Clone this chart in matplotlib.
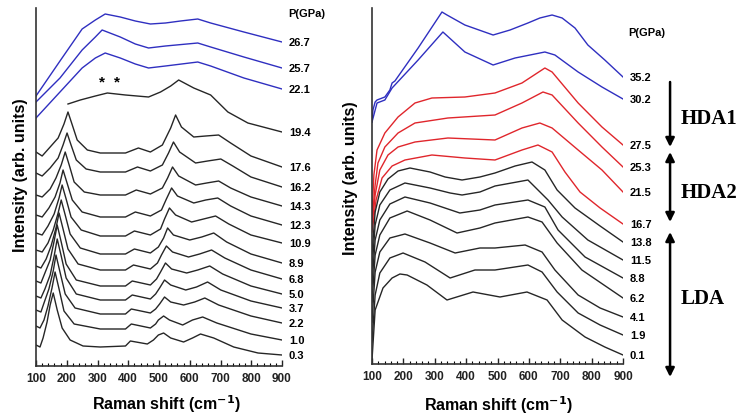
import matplotlib
matplotlib.use('Agg')
import matplotlib.pyplot as plt
from matplotlib.ticker import MultipleLocator

plt.rcParams['font.family'] = ['Liberation Sans', 'DejaVu Sans']
plt.rcParams['font.weight'] = 'bold'

# ---------- left panel: Raman shift (cm-1) / stacked intensity (arb.) ----------
l267_x = [100, 178, 250, 293, 325, 374, 423, 472, 521, 570, 626, 668, 776, 900]
l267_y = [270, 305, 337, 346, 352, 349, 345, 342, 343, 345, 347, 343, 334, 324]
l257_x = [100, 178, 250, 293, 315, 374, 423, 466, 521, 626, 668, 776, 900]
l257_y = [264, 288, 316, 329, 336, 329, 322, 318, 320, 323, 319, 309, 298]
l221_x = [100, 178, 250, 293, 325, 374, 423, 466, 521, 626, 668, 776, 900]
l221_y = [248, 274, 298, 308, 313, 308, 302, 298, 300, 304, 300, 288, 277]
l194_x = [204, 244, 293, 332, 391, 466, 505, 538, 564, 613, 668, 724, 789, 900]
l194_y = [262, 266, 270, 273, 271, 269, 274, 280, 286, 278, 271, 254, 243, 234]
l176_x = [100, 120, 146, 172, 191, 204, 218, 234, 267, 309, 391, 433, 472, 511, 538, 554, 573, 613, 652, 694, 733, 799, 900]
l176_y = [214, 210, 219, 228, 242, 254, 241, 226, 216, 213, 213, 218, 214, 221, 238, 251, 239, 229, 230, 231, 223, 210, 199]
l162_x = [100, 120, 146, 172, 188, 201, 214, 231, 263, 309, 391, 430, 472, 511, 531, 547, 567, 619, 658, 701, 740, 799, 900]
l162_y = [193, 190, 198, 208, 221, 233, 221, 206, 197, 194, 194, 199, 195, 201, 213, 224, 214, 203, 205, 207, 200, 189, 179]
l143_x = [100, 120, 146, 165, 182, 195, 208, 224, 257, 309, 391, 426, 472, 511, 528, 544, 564, 619, 655, 694, 733, 799, 900]
l143_y = [171, 169, 177, 188, 201, 214, 201, 184, 174, 171, 171, 176, 172, 178, 188, 199, 190, 181, 183, 185, 178, 169, 160]
l123_x = [100, 120, 142, 162, 178, 188, 201, 218, 250, 309, 391, 423, 472, 508, 524, 541, 560, 613, 652, 691, 733, 799, 900]
l123_y = [151, 149, 158, 169, 183, 196, 183, 166, 154, 149, 149, 154, 150, 156, 167, 178, 170, 163, 166, 168, 160, 150, 141]
l109_x = [100, 120, 139, 159, 175, 185, 198, 214, 247, 309, 391, 420, 472, 505, 518, 534, 554, 606, 645, 684, 727, 799, 900]
l109_y = [133, 131, 140, 152, 168, 181, 167, 149, 136, 130, 130, 135, 131, 137, 147, 158, 151, 144, 147, 150, 142, 131, 123]
l89_x = [100, 120, 139, 156, 172, 182, 195, 211, 244, 309, 391, 420, 472, 498, 515, 528, 547, 600, 639, 678, 720, 799, 900]
l89_y = [116, 114, 123, 136, 153, 166, 151, 132, 118, 112, 112, 117, 113, 119, 128, 138, 131, 126, 129, 133, 124, 112, 103]
l68_x = [100, 116, 133, 149, 165, 175, 188, 204, 237, 309, 391, 417, 472, 495, 508, 524, 544, 596, 632, 671, 714, 799, 900]
l68_y = [100, 98, 107, 120, 138, 153, 137, 117, 102, 96, 96, 101, 97, 103, 111, 120, 114, 109, 112, 116, 108, 96, 87]
l50_x = [100, 116, 129, 146, 159, 169, 182, 198, 231, 309, 391, 413, 472, 492, 505, 521, 541, 590, 626, 665, 707, 799, 900]
l50_y = [85, 83, 93, 106, 125, 141, 124, 102, 86, 80, 80, 85, 81, 87, 94, 103, 97, 93, 96, 100, 92, 80, 72]
l37_x = [100, 116, 129, 146, 159, 169, 182, 198, 231, 309, 391, 413, 472, 489, 502, 518, 538, 587, 622, 658, 701, 799, 900]
l37_y = [70, 68, 77, 91, 110, 127, 110, 88, 72, 66, 66, 71, 67, 72, 78, 86, 81, 76, 79, 84, 76, 65, 58]
l22_x = [100, 116, 126, 142, 156, 165, 178, 195, 227, 309, 391, 410, 472, 489, 502, 518, 538, 580, 616, 649, 694, 799, 900]
l22_y = [56, 54, 63, 77, 95, 111, 94, 72, 58, 52, 52, 57, 53, 57, 62, 69, 64, 61, 64, 68, 61, 50, 43]
l10_x = [100, 113, 126, 139, 152, 162, 175, 191, 224, 309, 391, 410, 472, 489, 498, 515, 534, 577, 609, 642, 688, 799, 900]
l10_y = [40, 38, 46, 60, 78, 94, 77, 55, 42, 37, 37, 42, 38, 42, 46, 50, 46, 41, 46, 49, 43, 32, 26]
l03_x = [100, 113, 123, 136, 146, 156, 169, 185, 211, 253, 309, 391, 407, 462, 482, 498, 515, 538, 580, 609, 635, 678, 743, 822, 900]
l03_y = [21, 19, 28, 44, 61, 73, 56, 38, 26, 20, 19, 20, 25, 22, 26, 31, 33, 28, 24, 28, 32, 28, 19, 13, 11]

left_p = ['26.7', '25.7', '22.1', '19.4', '17.6', '16.2', '14.3', '12.3',
          '10.9', '8.9', '6.8', '5.0', '3.7', '2.2', '1.0', '0.3']

# ---------- right panel ----------
r352_x = [100, 103, 110, 116, 141, 157, 164, 173, 247, 323, 339, 396, 486, 540, 597, 635, 674, 706, 747, 788, 842, 900]
r352_y = [242, 254, 262, 264, 267, 274, 281, 283, 316, 352, 349, 339, 329, 334, 341, 346, 349, 346, 336, 319, 304, 287]
r302_x = [100, 116, 141, 164, 247, 326, 396, 486, 556, 651, 683, 757, 833, 900]
r302_y = [242, 261, 264, 276, 304, 332, 312, 299, 306, 312, 309, 292, 277, 265]
r275_x = [100, 106, 116, 141, 183, 237, 291, 396, 492, 578, 651, 674, 757, 833, 900]
r275_y = [149, 189, 214, 231, 247, 261, 266, 267, 271, 281, 296, 292, 261, 237, 219]
r253_x = [100, 110, 119, 141, 183, 237, 342, 492, 578, 645, 674, 757, 833, 900]
r253_y = [142, 179, 201, 217, 231, 241, 246, 249, 261, 272, 269, 241, 217, 197]
r215_x = [100, 110, 125, 151, 183, 237, 342, 492, 578, 635, 674, 757, 833, 900]
r215_y = [136, 169, 194, 209, 217, 222, 226, 224, 236, 241, 236, 214, 194, 172]
r167_x = [100, 113, 132, 164, 205, 291, 396, 492, 578, 629, 674, 715, 763, 827, 900]
r167_y = [132, 164, 186, 198, 204, 209, 206, 204, 214, 219, 212, 192, 172, 156, 140]
r138_x = [100, 110, 125, 151, 183, 221, 285, 333, 387, 444, 492, 556, 610, 651, 690, 747, 827, 900]
r138_y = [110, 152, 172, 185, 193, 196, 192, 187, 184, 187, 191, 198, 202, 194, 174, 156, 138, 122]
r115_x = [100, 110, 125, 157, 205, 285, 349, 387, 444, 492, 597, 661, 706, 788, 900]
r115_y = [95, 139, 159, 174, 181, 176, 171, 169, 172, 178, 184, 164, 147, 124, 104]
r88_x = [100, 110, 125, 157, 205, 285, 380, 444, 492, 597, 651, 693, 779, 900]
r88_y = [80, 124, 144, 160, 167, 161, 151, 154, 159, 164, 157, 134, 107, 86]
r62_x = [100, 110, 125, 157, 212, 285, 371, 444, 492, 597, 642, 690, 769, 900]
r62_y = [62, 109, 129, 146, 153, 144, 131, 136, 141, 147, 142, 121, 94, 66]
r41_x = [100, 110, 125, 157, 205, 285, 365, 444, 492, 588, 642, 683, 757, 827, 900]
r41_y = [42, 92, 112, 126, 130, 121, 111, 116, 116, 119, 112, 94, 69, 56, 47]
r19_x = [100, 110, 125, 157, 199, 269, 349, 428, 492, 597, 642, 690, 757, 827, 900]
r19_y = [22, 69, 91, 106, 111, 102, 86, 94, 94, 99, 92, 72, 51, 39, 29]
r01_x = [100, 110, 135, 164, 189, 212, 275, 339, 422, 508, 594, 658, 706, 779, 842, 900]
r01_y = [4, 54, 76, 86, 90, 89, 79, 64, 72, 67, 72, 64, 44, 27, 17, 9]

right_p = ['35.2', '30.2', '27.5', '25.3', '21.5', '16.7', '13.8',
           '11.5', '8.8', '6.2', '4.1', '1.9', '0.1']

left_curves = [(l267_x, l267_y), (l257_x, l257_y), (l221_x, l221_y), (l194_x, l194_y),
               (l176_x, l176_y), (l162_x, l162_y), (l143_x, l143_y), (l123_x, l123_y),
               (l109_x, l109_y), (l89_x, l89_y), (l68_x, l68_y), (l50_x, l50_y),
               (l37_x, l37_y), (l22_x, l22_y), (l10_x, l10_y), (l03_x, l03_y)]
right_curves = [(r352_x, r352_y), (r302_x, r302_y), (r275_x, r275_y), (r253_x, r253_y),
                (r215_x, r215_y), (r167_x, r167_y), (r138_x, r138_y), (r115_x, r115_y),
                (r88_x, r88_y), (r62_x, r62_y), (r41_x, r41_y), (r19_x, r19_y), (r01_x, r01_y)]

blue, red, black = '#2f2fc0', '#e0262c', '#262626'
left_colors = [blue] * 3 + [black] * 13
right_colors = [blue] * 2 + [red] * 4 + [black] * 7

fig = plt.figure(figsize=(7.37, 4.15), dpi=100)
ax1 = fig.add_axes([36 / 737, 49 / 415, 246 / 737, 358 / 415])
ax2 = fig.add_axes([372 / 737, 51 / 415, 251 / 737, 356 / 415])

for ax, curves, labels, colors in [(ax1, left_curves, left_p, left_colors),
                                   (ax2, right_curves, right_p, right_colors)]:
    for (x, y), p, c in zip(curves, labels, colors):
        ax.plot(x, y, color=c, lw=1.0)
        ax.annotate(p, xy=(x[-1], y[-1]), xytext=(5, -1), textcoords='offset points',
                    ha='left', va='center', fontsize=8, annotation_clip=False)
    ax.set_xlim(100, 900)
    ax.set_yticks([])
    for s in ['top', 'right']:
        ax.spines[s].set_visible(False)
    for s in ['left', 'bottom']:
        ax.spines[s].set_linewidth(1.2)
        ax.spines[s].set_color('#333333')
    ax.xaxis.set_major_locator(MultipleLocator(100))
    ax.xaxis.set_minor_locator(MultipleLocator(20))
    ax.tick_params(axis='x', which='major', direction='in', length=4, width=1,
                   labelsize=8.5, pad=5, colors='#222222')
    ax.tick_params(axis='x', which='minor', direction='in', length=2, width=0.8)

ax1.set_ylim(0, 358)
ax2.set_ylim(0, 356)

# stars over the 19.4 GPa spectrum
ax1.text(315, 284, '*', ha='center', va='center', fontsize=11)
ax1.text(364, 284, '*', ha='center', va='center', fontsize=11)

# pressure headers
fig.text(288 / 737, 1 - 14 / 415, 'P(GPa)', fontsize=8, va='center', ha='left')
fig.text(628 / 737, 1 - 33 / 415, 'P(GPa)', fontsize=8, va='center', ha='left')

# axis labels
fig.text(21 / 737, 1 - 175 / 415, 'Intensity (arb. units)', rotation=90,
         ha='center', va='center', fontsize=11.5)
fig.text(350 / 737, 1 - 178 / 415, 'Intensity (arb. units)', rotation=90,
         ha='center', va='center', fontsize=11.5)
fig.text(166 / 737, 1 - 404 / 415, 'Raman shift (cm$^{\\mathbf{-1}}$)',
         ha='center', va='center', fontsize=11.5)
fig.text(498 / 737, 1 - 405 / 415, 'Raman shift (cm$^{\\mathbf{-1}}$)',
         ha='center', va='center', fontsize=11.5)

# phase arrows and names
arrow_kw = dict(color='black', lw=1.8, mutation_scale=13, shrinkA=0, shrinkB=0)
ax2.annotate('', xy=(1050, 217), xytext=(1050, 282), annotation_clip=False,
             arrowprops=dict(arrowstyle='-|>', **arrow_kw))
ax2.annotate('', xy=(1050, 212), xytext=(1050, 142), annotation_clip=False,
             arrowprops=dict(arrowstyle='<|-|>', **arrow_kw))
ax2.annotate('', xy=(1050, 132), xytext=(1050, -13), annotation_clip=False,
             arrowprops=dict(arrowstyle='<|-|>', **arrow_kw))
for txt, yy in [('HDA1', 245), ('HDA2', 171), ('LDA', 65)]:
    ax2.text(1085, yy, txt, family='Liberation Serif', fontsize=15,
             ha='left', va='center', clip_on=False)

fig.savefig('out.png', dpi=100)
